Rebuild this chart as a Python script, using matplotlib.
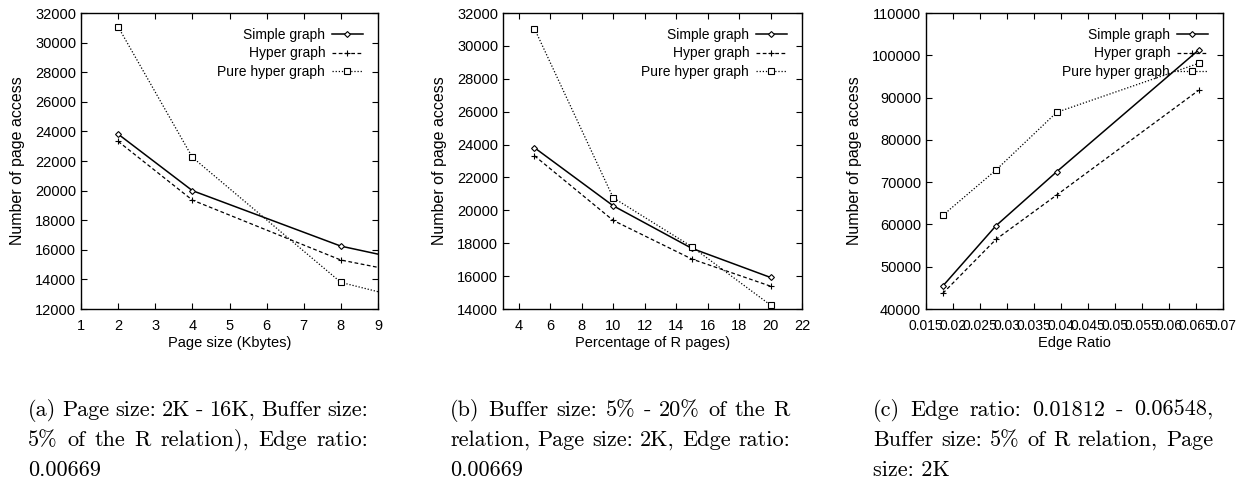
import matplotlib.pyplot as plt

# Panel (a): page size
page_kb = [2, 4, 8, 16]
a_simple = [23820, 20000, 16250, 11920]
a_hyper = [23330, 19360, 15310, 11350]
a_pure = [31070, 22250, 13800, 8760]

# Panel (b): buffer size (% of R pages)
buf_pct = [5, 10, 15, 20]
b_simple = [23810, 20280, 17690, 15920]
b_hyper = [23320, 19390, 17040, 15390]
b_pure = [31050, 20770, 17790, 14240]

# Panel (c): edge ratio
edge_ratio = [0.01812, 0.02796, 0.0392, 0.06548]
c_simple = [45450, 59700, 72470, 101250]
c_hyper = [43720, 56480, 66960, 91720]
c_pure = [62160, 72870, 86520, 98100]

labels = ["Simple graph", "Hyper graph", "Pure hyper graph"]

captions = [
    ["(a) Page size: 2K - 16K, Buffer size:",
     "5% of the R relation), Edge ratio:",
     "0.00669"],
    ["(b) Buffer size: 5% - 20% of the R",
     "relation, Page size: 2K, Edge ratio:",
     "0.00669"],
    ["(c) Edge ratio:  0.01812 - 0.06548,",
     "Buffer size: 5% of R relation, Page",
     "size: 2K"],
]

plt.rcParams['font.family'] = ['Liberation Sans', 'DejaVu Sans']
plt.rcParams['font.size'] = 10

W, H = 1250, 483
fig = plt.figure(figsize=(W / 100, H / 100), dpi=100)
lefts = [0.0648, 0.4024, 0.7408]
widths = [0.2376, 0.2392, 0.2376]
axes = [fig.add_axes([l, 0.3602, w, 0.6128]) for l, w in zip(lefts, widths)]

panels = [
    (page_kb, [a_simple, a_hyper, a_pure], (1, 9), range(1, 10), (12000, 32000),
     range(12000, 32001, 2000), "Page size (Kbytes)", 10.5),
    (buf_pct, [b_simple, b_hyper, b_pure], (3, 22), range(4, 23, 2), (14000, 32000),
     range(14000, 32001, 2000), "Percentage of R pages)", 10.5),
    (edge_ratio, [c_simple, c_hyper, c_pure], (0.015, 0.07),
     [0.015 + 0.005 * i for i in range(12)], (40000, 110000),
     range(40000, 110001, 10000), "Edge Ratio", 10),
]

styles = [
    dict(linestyle='-', linewidth=1.1, marker='D', markersize=3, markerfacecolor='white'),
    dict(linestyle=(0, (3, 2)), linewidth=0.9, marker='+', markersize=4.5),
    dict(linestyle=(0, (1, 1.5)), linewidth=0.9, marker='s', markersize=4, markerfacecolor='white'),
]

for ax, (xs, series, xlim, xt, ylim, yt, xlabel, xfs) in zip(axes, panels):
    for ys, lab, st in zip(series, labels, styles):
        ax.plot(xs, ys, color='black', label=lab, markeredgewidth=0.8, **st)
    ax.set_xlim(*xlim)
    ax.set_ylim(*ylim)
    ax.set_xticks(list(xt))
    ax.set_xticklabels(["%g" % round(v, 4) for v in xt], fontsize=xfs)
    ax.set_yticks(list(yt))
    ax.set_yticklabels([str(v) for v in yt], fontsize=10.5)
    ax.set_xlabel(xlabel, labelpad=2, fontsize=10.5)
    ax.set_ylabel("Number of page access", labelpad=7, fontsize=11.5)
    ax.tick_params(axis='x', pad=7)
    ax.tick_params(direction='in', top=True, right=True, length=4, width=0.8)
    for s in ax.spines.values():
        s.set_linewidth(1.0)
    leg = ax.legend(loc='upper right', frameon=False, markerfirst=False,
                    handlelength=2.2, handletextpad=0.5, labelspacing=0.3,
                    borderaxespad=0.7, fontsize=10)
    for t in leg.get_texts():
        t.set_ha('right')

# captions, justified lines like the LaTeX source
fig.canvas.draw()
rend = fig.canvas.get_renderer()
cap_x = [28, 450, 873]
line_y = [410, 440, 470]
target_w = 340
for x0, lines in zip(cap_x, captions):
    for i, (line, yp) in enumerate(zip(lines, line_y)):
        kw = dict(family='cmr10', fontsize=16, va='center', ha='left')
        if i == len(lines) - 1:
            fig.text(x0 / W, 1 - yp / H, line, **kw)
            continue
        words = line.split()
        ts = [fig.text(0, 1 - yp / H, w_, **kw) for w_ in words]
        ws = [t.get_window_extent(rend).width for t in ts]
        gap = max((target_w - sum(ws)) / (len(words) - 1), 3)
        xp = x0
        for t, w_ in zip(ts, ws):
            t.set_x(xp / W)
            xp += w_ + gap

plt.savefig("out.png", dpi=100)
